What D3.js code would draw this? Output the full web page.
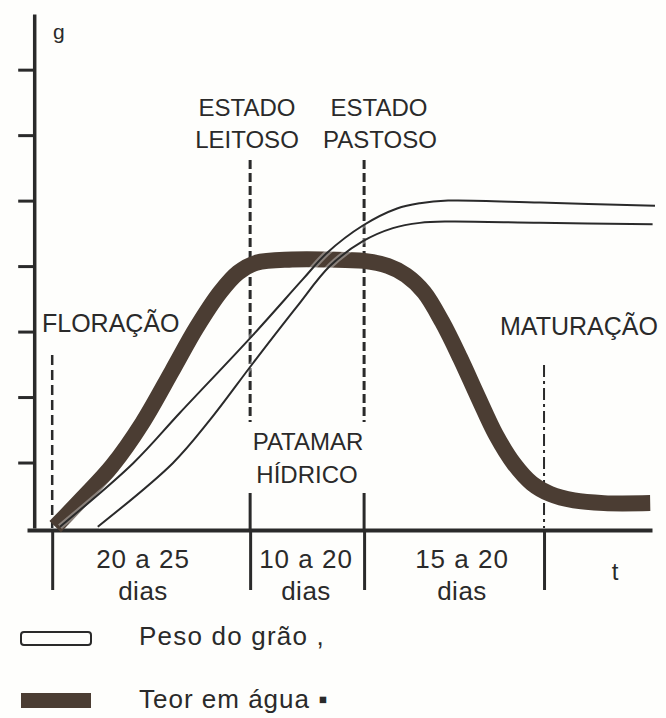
<!DOCTYPE html>
<html>
<head>
<meta charset="utf-8">
<script src="https://cdn.jsdelivr.net/npm/d3@7"></script>
<style>
  body { margin: 0; background: #fefefc; }
  svg { display: block; }
  text { font-family: "Liberation Sans", Arial, sans-serif; fill: #2a2a2a; }
</style>
</head>
<body>
<svg id="main_svg" width="666" height="718"></svg>
<script>
// etapas (t) e curvas
const stageT = [0, 33, 52, 82];
const yTicks = [1, 2, 3, 4, 5, 6, 7];

const waterT = [0.5, 5, 10, 15, 20, 24, 28, 31, 34, 40, 46, 52, 56, 59, 62, 65, 68, 71, 74, 77, 80, 83, 87, 92, 99.7];
const waterG = [0.02, 0.45, 0.95, 1.6, 2.4, 3.05, 3.6, 3.9, 4.05, 4.1, 4.1, 4.08, 4.0, 3.86, 3.6, 3.15, 2.6, 2.0, 1.42, 0.98, 0.68, 0.52, 0.42, 0.38, 0.38];

const pesoSupT = [1.3, 13.5, 21.3, 33.5, 41.8, 45.8, 51.8, 57.5, 61.3, 66, 81.3, 100.5];
const pesoSupG = [0.02, 0.99, 1.76, 2.95, 3.8, 4.2, 4.62, 4.88, 4.96, 5.0, 4.97, 4.92];

const pesoInfT = [7.6, 20.1, 26.3, 33.5, 40.8, 46.3, 51.8, 56.8, 61.3, 66, 81.3, 100.1];
const pesoInfG = [0.02, 0.99, 1.65, 2.52, 3.38, 4.0, 4.38, 4.58, 4.66, 4.68, 4.66, 4.64];

const periodLabels = ["20 a 25", "10 a 20", "15 a 20"];

let svg = d3.select("#main_svg");
let x = d3.scaleLinear().domain([-4.2, 100]).range([27, 652]);
let y = d3.scaleLinear().domain([0, 7.85]).range([528, 14]);
let ink = "#2a2a2a";
let brown = "#4b3d33";

// eixo y
let yAxis = svg.append("g")
    .attr("transform", "translate(" + x(-3) + ",0)")
    .call(d3.axisLeft(y).tickValues(yTicks).tickSize(16).tickSizeOuter(0).tickFormat(""));
yAxis.select(".domain").attr("stroke", ink).attr("stroke-width", 3.5);
yAxis.selectAll(".tick line").attr("stroke", ink).attr("stroke-width", 3);

// eixo x
let xAxis = svg.append("g")
    .attr("transform", "translate(0,530)")
    .call(d3.axisBottom(x).tickValues(stageT).tickSize(60).tickSizeOuter(0).tickFormat(""));
xAxis.select(".domain").attr("stroke", ink).attr("stroke-width", 4);
xAxis.selectAll(".tick line").attr("stroke", ink).attr("stroke-width", 3);

// linhas verticais tracejadas
function vline(t, y1, y2, w, dash) {
    svg.append("line")
        .attr("x1", x(t)).attr("x2", x(t))
        .attr("y1", y1).attr("y2", y2)
        .attr("stroke", ink).attr("stroke-width", w)
        .attr("stroke-dasharray", dash);
}
vline(stageT[0], 355, 528, 2.5, "10,5");
vline(stageT[1], 160, 422, 3, "9,4");
vline(stageT[2], 160, 422, 3, "9,4");
vline(stageT[1], 493, 530, 3, null);
vline(stageT[2], 493, 530, 3, null);
vline(stageT[3], 365, 528, 2, "12,4,3,4");

// teor em água
let smooth = d3.line().curve(d3.curveCatmullRom.alpha(0.5));
svg.append("path")
    .attr("d", smooth(waterT.map((t, i) => [x(t), y(waterG[i])])))
    .attr("fill", "none")
    .attr("stroke", brown)
    .attr("stroke-width", 16);

// peso do grão (com halo claro sobre a faixa escura)
[[pesoSupT, pesoSupG], [pesoInfT, pesoInfG]].forEach(function (s) {
    let d = smooth(s[0].map((t, i) => [x(t), y(s[1][i])]));
    svg.append("path")
        .attr("d", d)
        .attr("fill", "none")
        .attr("stroke", "#fff")
        .attr("stroke-opacity", 0.35)
        .attr("stroke-width", 6);
    svg.append("path")
        .attr("d", d)
        .attr("fill", "none")
        .attr("stroke", ink)
        .attr("stroke-width", 2);
});

// textos
function label(str, px, py, size, anchor, spacing) {
    svg.append("text")
        .attr("x", px).attr("y", py)
        .attr("font-size", size)
        .attr("letter-spacing", spacing || 0)
        .attr("text-anchor", anchor || "middle")
        .text(str);
}
label("g", 53, 39, 21, "start");
label("ESTADO", 247, 116, 24);
label("LEITOSO", 247, 148, 24);
label("ESTADO", 379, 116, 24);
label("PASTOSO", 380, 148, 24);
label("FLORAÇÃO", 42, 332, 25, "start");
label("MATURAÇÃO", 500, 335, 25, "start");
label("PATAMAR", 308, 450, 24);
label("HÍDRICO", 307, 483, 24);

let periodX = [143, 306, 462];
periodLabels.forEach(function (p, i) {
    label(p, periodX[i], 568, 26, "middle", 1);
    label("dias", periodX[i], 600, 26, "middle", 0.5);
});
label("t", 615, 580, 24);

// legenda
svg.append("rect")
    .attr("x", 21).attr("y", 632).attr("width", 70).attr("height", 13)
    .attr("rx", 3)
    .attr("fill", "none").attr("stroke", ink).attr("stroke-width", 2);
svg.append("rect")
    .attr("x", 21).attr("y", 693).attr("width", 70).attr("height", 15)
    .attr("fill", brown);
label("Peso do grão ,", 139, 645, 26, "start", 1.2);
label("Teor em água ▪", 139, 708, 26, "start", 1);
</script>
</body>
</html>
